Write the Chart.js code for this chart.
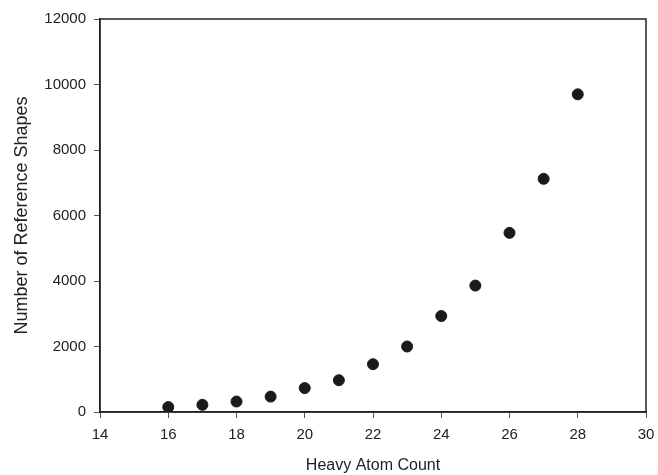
<!DOCTYPE html>
<html>
<head>
<meta charset="utf-8">
<script src="https://cdn.jsdelivr.net/npm/chart.js@4"></script>
<style>
  html, body { margin: 0; padding: 0; background: #fff; }
  #wrap { width: 658px; height: 475px; }
</style>
</head>
<body>
<div id="wrap"><canvas id="myChart" width="658" height="475"></canvas></div>
<script>
var heavyAtoms = [16, 17, 18, 19, 20, 21, 22, 23, 24, 25, 26, 27, 28];
var refShapes = [150, 220, 320, 470, 730, 970, 1460, 2000, 2930, 3860, 5470, 7120, 9700];
var xTicks = [14, 16, 18, 20, 22, 24, 26, 28, 30];
var yTicks = [0, 2000, 4000, 6000, 8000, 10000, 12000];

var points = heavyAtoms.map(function (x, i) { return { x: x, y: refShapes[i] }; });

// box around the plot area
var frame = {
    id: 'frame',
    afterDraw: function (chart) {
        var a = chart.chartArea, c = chart.ctx;
        c.save();
        c.strokeStyle = '#222';
        c.lineWidth = 1.5;
        c.strokeRect(a.left, a.top, a.right - a.left, a.bottom - a.top);
        c.restore();
    }
};

var plain = function (v) { return String(v); };

var ctx = document.getElementById('myChart');
var myChart = new Chart(ctx, {
    type: 'scatter',
    data: {
        datasets: [{
            data: points,
            backgroundColor: '#1a1a1a',
            borderColor: '#1a1a1a',
            pointRadius: 5.5,
            pointHoverRadius: 5.5
        }]
    },
    options: {
        responsive: false,
        animation: false,
        layout: { padding: { top: 19, right: 12, left: 0, bottom: 0 } },
        plugins: { legend: { display: false }, tooltip: { enabled: false } },
        scales: {
            x: {
                type: 'linear',
                min: 14, max: 30,
                afterBuildTicks: function (s) { s.ticks = xTicks.map(function (v) { return { value: v }; }); },
                afterFit: function (s) { s.height = 63; s.paddingRight = 0; s.paddingLeft = 0; },
                grid: { drawOnChartArea: false, tickLength: 6, color: '#555', tickWidth: 1 },
                border: { color: '#222', width: 1.5 },
                ticks: { color: '#222', font: { family: 'Liberation Sans', size: 15 }, padding: 8, maxRotation: 0, callback: plain },
                title: { display: true, text: 'Heavy Atom Count', color: '#222',
                         font: { family: 'Liberation Sans', size: 16 }, padding: { top: 4, bottom: 0 } }
            },
            y: {
                min: 0, max: 12000,
                afterBuildTicks: function (s) { s.ticks = yTicks.map(function (v) { return { value: v }; }); },
                afterFit: function (s) { s.width = 100; },
                grid: { drawOnChartArea: false, tickLength: 6, color: '#555', tickWidth: 1 },
                border: { color: '#222', width: 1.5 },
                ticks: { color: '#222', font: { family: 'Liberation Sans', size: 15 }, padding: 8, callback: plain },
                title: { display: true, text: 'Number of Reference Shapes', color: '#222',
                         font: { family: 'Liberation Sans', size: 18 }, padding: { top: 11, bottom: 0 } }
            }
        }
    },
    plugins: [frame]
});
</script>
</body>
</html>
